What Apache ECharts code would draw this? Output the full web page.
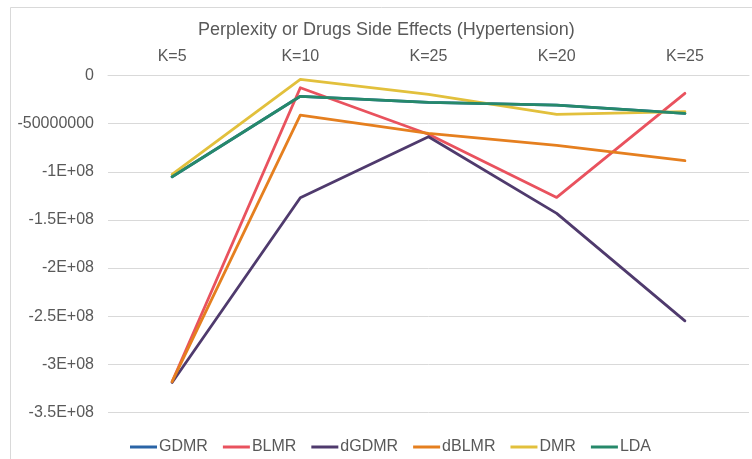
<!DOCTYPE html>
<html>
<head>
<meta charset="utf-8">
<script src="https://cdn.jsdelivr.net/npm/echarts@6/dist/echarts.min.js"></script>
<style>
html,body{margin:0;padding:0;background:#fff;}
#chart{width:752px;height:459px;}
</style>
</head>
<body>
<div id="chart"></div>
<script>
var categories = ['K=5', 'K=10', 'K=25', 'K=20', 'K=25'];
var seriesNames = ['GDMR', 'BLMR', 'dGDMR', 'dBLMR', 'DMR', 'LDA'];
var GDMR  = [-105.2e6, -21.6e6, -27.9e6, -30.7e6, -39.3e6];
var BLMR  = [-318.0e6, -12.7e6, -61.0e6, -126.6e6, -18.5e6];
var dGDMR = [-318.8e6, -127.0e6, -63.6e6, -143.2e6, -254.8e6];
var dBLMR = [-318.0e6, -41.1e6, -60.0e6, -72.6e6, -88.5e6];
var DMR   = [-102.7e6, -4.0e6, -19.6e6, -40.4e6, -37.6e6];
var LDA   = [-105.2e6, -21.6e6, -27.9e6, -30.7e6, -39.3e6];
var yTickLabels = ['0', '-50000000', '-1E+08', '-1.5E+08', '-2E+08', '-2.5E+08', '-3E+08', '-3.5E+08'];

var colors = ['#2a64a6', '#e9525e', '#4f3a6d', '#e57f1f', '#e2c03c', '#26896a'];
var seriesData = [GDMR, BLMR, dGDMR, dBLMR, DMR, LDA];
var font = 'Liberation Sans, Arial, sans-serif';

var chart = echarts.init(document.getElementById('chart'), null, {renderer: 'canvas'});
chart.setOption({
  animation: false,
  backgroundColor: '#ffffff',
  color: colors,
  graphic: [{
    type: 'rect',
    shape: {x: 10.5, y: 7.5, width: 800, height: 500},
    style: {fill: 'none', stroke: '#d9d9d9', lineWidth: 1},
    silent: true
  }],
  title: {
    text: 'Perplexity or Drugs Side Effects (Hypertension)',
    left: 193,
    top: 16,
    textStyle: {fontFamily: font, fontSize: 18, fontWeight: 'normal', color: '#595959'}
  },
  legend: {
    left: 125,
    top: 434,
    icon: 'rect',
    itemWidth: 27,
    itemHeight: 3,
    itemGap: 15,
    textStyle: {fontFamily: font, fontSize: 16, color: '#595959', padding: [0, 0, 0, -3]},
    data: seriesNames
  },
  grid: {left: 108, right: 3, top: 75.5, bottom: 46.5, containLabel: false},
  xAxis: {
    type: 'category',
    position: 'top',
    data: categories,
    boundaryGap: true,
    axisLine: {show: true, lineStyle: {color: '#d9d9d9', width: 1}},
    axisTick: {show: false},
    axisLabel: {fontFamily: font, fontSize: 16, color: '#595959', margin: 11},
    splitLine: {show: false}
  },
  yAxis: {
    type: 'value',
    min: -3.5e8,
    max: 0,
    interval: 5e7,
    axisLine: {show: false},
    axisTick: {show: false},
    axisLabel: {
      fontFamily: font, fontSize: 16, color: '#595959', margin: 14,
      formatter: function (v) { return yTickLabels[Math.round(-v / 5e7)]; }
    },
    splitLine: {show: true, lineStyle: {color: '#d9d9d9', width: 1}}
  },
  series: seriesNames.map(function (n, i) {
    return {
      name: n,
      type: 'line',
      data: seriesData[i],
      showSymbol: false,
      symbol: 'none',
      lineStyle: {width: 2.8, color: colors[i], cap: 'round', join: 'round'},
      itemStyle: {color: colors[i]}
    };
  })
});
</script>
</body>
</html>
